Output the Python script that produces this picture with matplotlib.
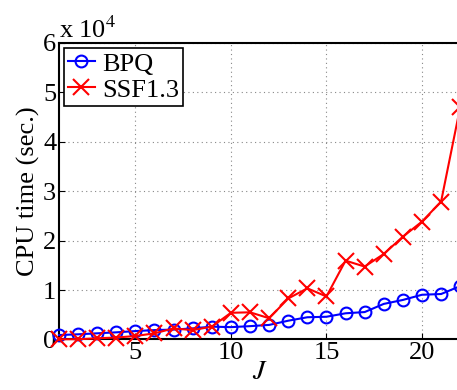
import numpy as np
import matplotlib.pyplot as plt
from matplotlib.ticker import FuncFormatter

# J values and CPU times (seconds)
J = list(range(1, 23))
bpq = [900, 1050, 1250, 1450, 1700, 1900, 2000, 2250, 2600, 2500, 2700,
       2950, 3800, 4500, 4600, 5300, 5550, 7200, 8000, 9050, 9200, 10800]
ssf = [50, 50, 250, 400, 700, 1250, 2250, 1900, 2600, 5400, 5500,
       4300, 8300, 10350, 8700, 15950, 14750, 17300, 20800, 23850, 27900, 47000]

plt.rcParams['font.family'] = ['Liberation Serif', 'DejaVu Serif']
plt.rcParams['mathtext.fontset'] = 'stix'

fig = plt.figure(figsize=(4.57, 3.90), dpi=100)
ax = fig.add_axes([0.129, 0.1295, 0.878, 0.7605])

ax.plot(J, bpq, color='blue', marker='o', markersize=8.5, markerfacecolor='none',
        markeredgewidth=1.5, linewidth=1.5, label='BPQ', clip_on=False, zorder=3)
ax.plot(J, ssf, color='red', marker='x', markersize=11, markeredgewidth=1.5,
        linewidth=1.5, label='SSF1.3', clip_on=False, zorder=4)

ax.set_xlim(1, 22)
ax.set_ylim(0, 60000)
ax.set_xticks([5, 10, 15, 20])
ax.set_yticks(np.arange(0, 60001, 10000))
ax.yaxis.set_major_formatter(FuncFormatter(lambda v, p: '%d' % round(v / 1e4)))
ax.tick_params(direction='in', labelsize=19, length=4, width=0.8, pad=2)
ax.grid(True, linestyle=(0, (1, 3)), color='#888888', linewidth=0.8)

for s in ax.spines.values():
    s.set_linewidth(1.5)

ax.text(0.0, 1.0, r'x 10$^4$', transform=ax.transAxes, fontsize=19,
        ha='left', va='bottom')

ax.set_xlabel('$J$', fontsize=20, labelpad=-3)
ax.set_ylabel('CPU time (sec.)', fontsize=19, labelpad=2)

leg = ax.legend(loc='upper left', fontsize=19, fancybox=False, framealpha=1,
                edgecolor='black', borderpad=0.15, handlelength=1.0,
                handletextpad=0.3, labelspacing=0.1, borderaxespad=0.2)
leg.get_frame().set_linewidth(1.2)

fig.savefig('out.png', dpi=100)
